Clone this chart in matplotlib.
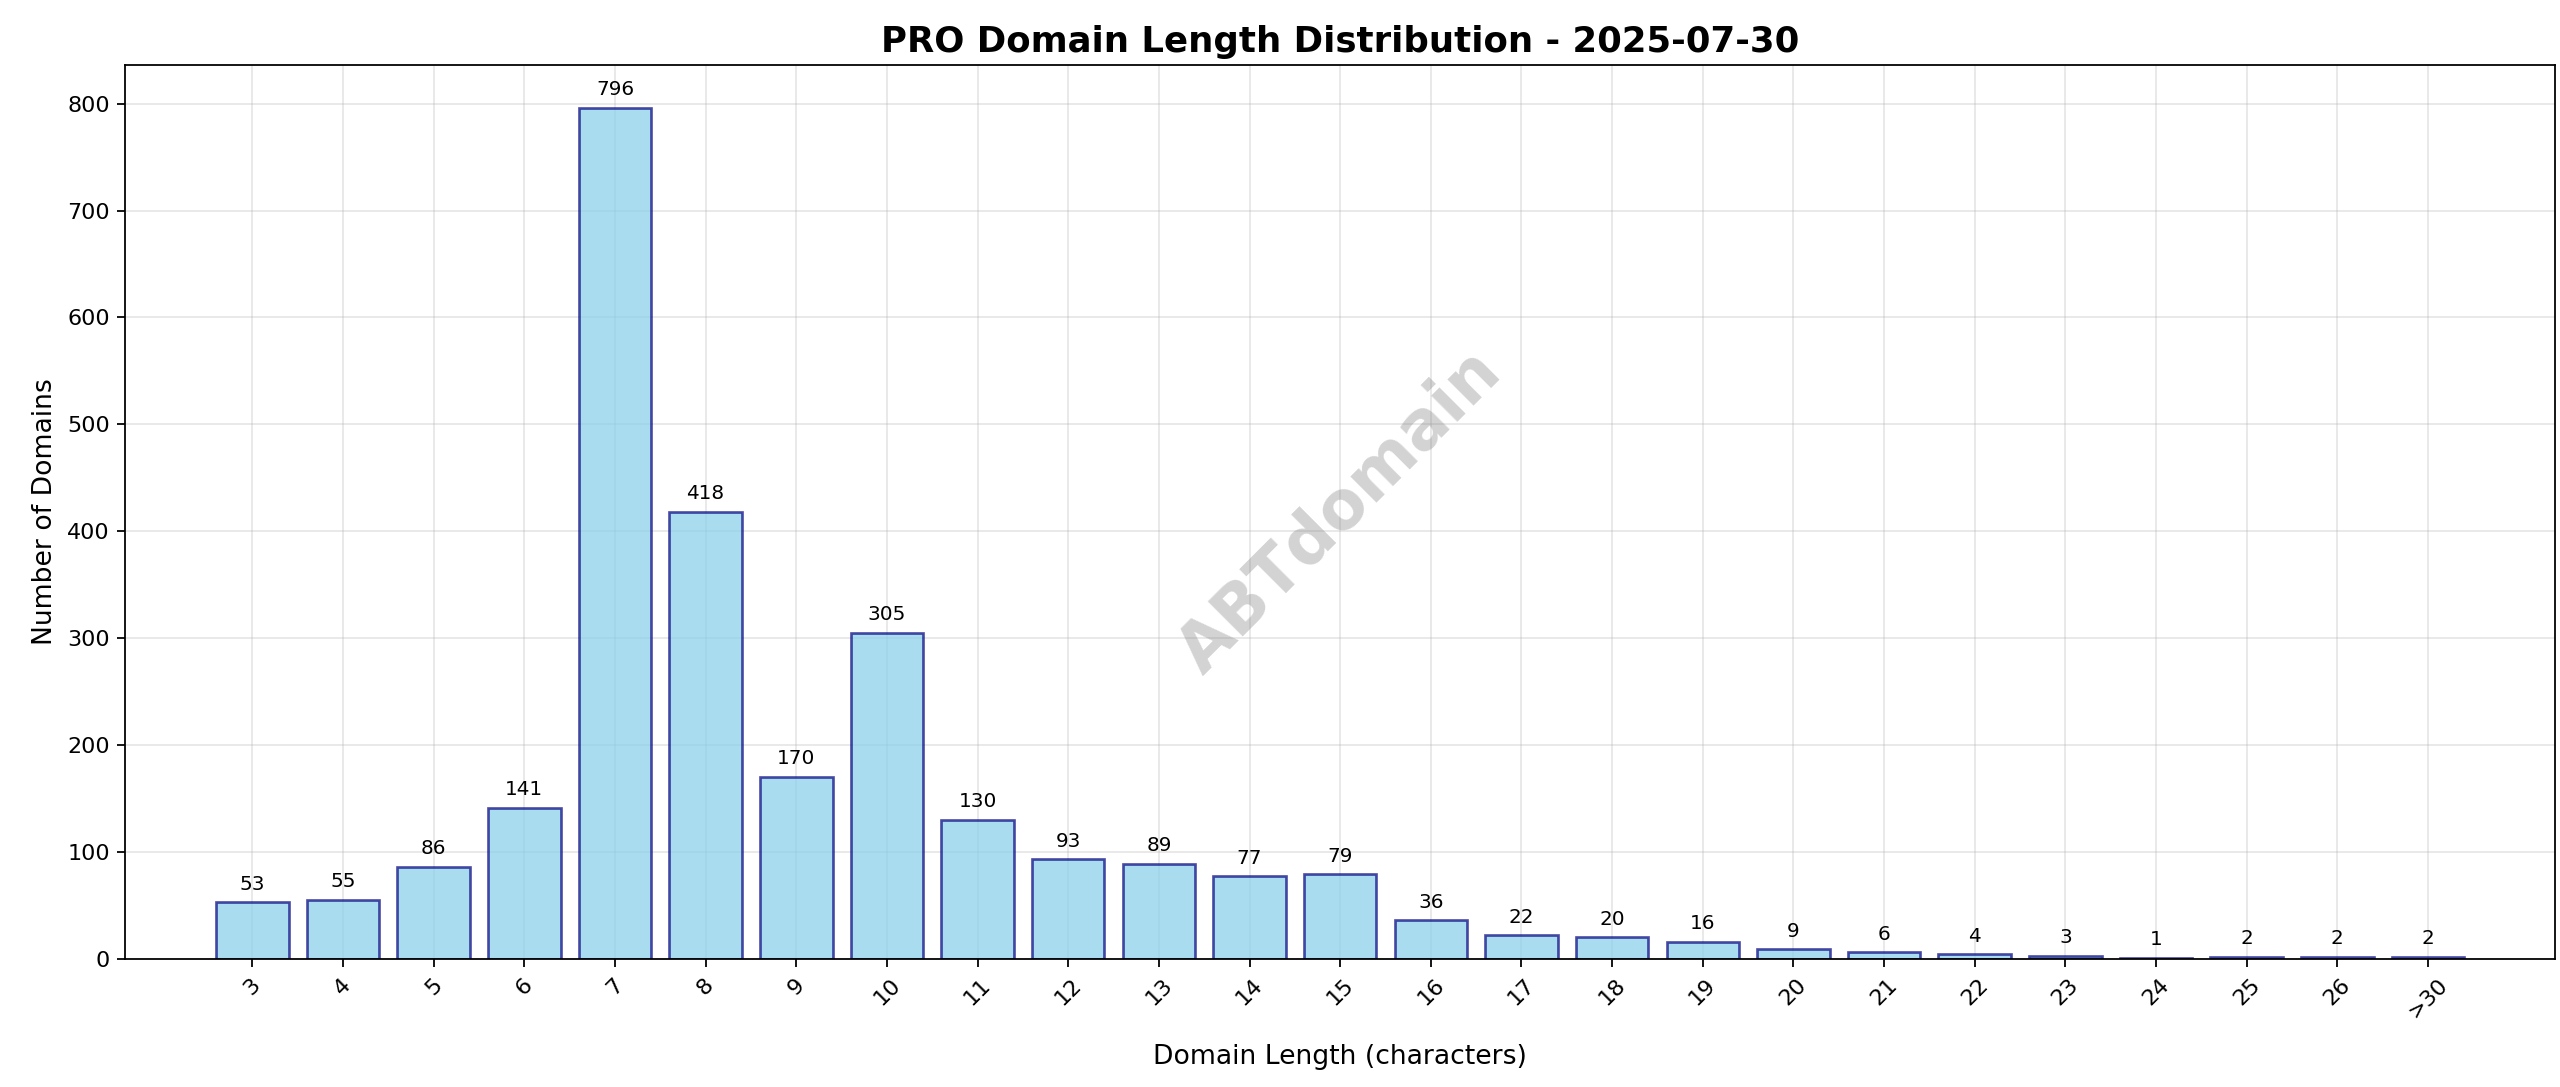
import matplotlib
matplotlib.use("Agg")
import matplotlib.pyplot as plt

categories = ["3","4","5","6","7","8","9","10","11","12","13","14","15","16","17","18","19","20","21","22","23","24","25","26",">30"]
counts = [53,55,86,141,796,418,170,305,130,93,89,77,79,36,22,20,16,9,6,4,3,1,2,2,2]

fig, ax = plt.subplots(figsize=(16, 6.79375), dpi=160)
x = list(range(len(categories)))
bars = ax.bar(x, counts, color="skyblue", alpha=0.7, edgecolor="navy", linewidth=1.2, width=0.8)
for b, v in zip(bars, counts):
    ax.text(b.get_x() + b.get_width()/2, v + 8, str(v), ha="center", va="bottom", fontsize=9)
ax.set_xticks(x)
ax.set_xticklabels(categories, rotation=45)
ax.set_xlabel("Domain Length (characters)", fontsize=12, labelpad=10)
ax.set_ylabel("Number of Domains", fontsize=12)
ax.set_title("PRO Domain Length Distribution - 2025-07-30", fontsize=16, fontweight="bold")
ax.grid(True, alpha=0.3)
ax.set_axisbelow(True)
ax.set_ylim(0, 836)
ax.set_xlim(-1.4, 25.4)
ax.text(0.5, 0.5, "ABTdomain", transform=ax.transAxes, fontsize=30, fontweight="bold",
        color="gray", alpha=0.35, rotation=45, ha="center", va="center")
fig.subplots_adjust(left=0.049, right=0.998, top=0.94, bottom=0.118)
fig.savefig("out.png", dpi=160)
